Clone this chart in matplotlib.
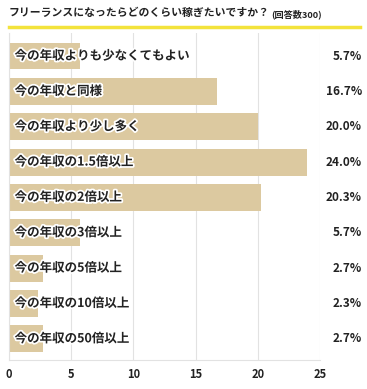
import matplotlib
matplotlib.use("Agg")
import matplotlib.pyplot as plt
import matplotlib.patheffects as pe
import matplotlib.transforms as mtransforms

plt.rcParams['font.family'] = ['Noto Sans CJK JP', 'DejaVu Sans']

# data
labels = ["今の年収よりも少なくてもよい", "今の年収と同様", "今の年収より少し多く",
          "今の年収の1.5倍以上", "今の年収の2倍以上", "今の年収の3倍以上",
          "今の年収の5倍以上", "今の年収の10倍以上", "今の年収の50倍以上"]
values = [5.7, 16.7, 20.0, 24.0, 20.3, 5.7, 2.7, 2.3, 2.7]
xticks = [0, 5, 10, 15, 20, 25]

fig = plt.figure(figsize=(3.67, 3.89), dpi=100)
ax = fig.add_axes([0.0245, 0.0745, 0.847, 0.8405])

y = list(range(len(values)))
ax.barh(y, values, height=0.76, color="#dcc9a0", zorder=2)

halo = [pe.withStroke(linewidth=2.5, foreground="white")]
pct_tr = mtransforms.blended_transform_factory(fig.transFigure, ax.transData)
for i, (lab, v) in enumerate(zip(labels, values)):
    ax.text(0.45, i, lab, va="center", ha="left", fontsize=9, fontweight="bold",
            color="#222222", path_effects=halo, zorder=3)
    ax.text(362 / 367, i, "%.1f%%" % v, transform=pct_tr,
            va="center", ha="right", fontsize=8.5, fontweight="bold", color="#222222")

ax.set_xlim(0, 25)
ax.set_ylim(8.6, -0.65)
ax.set_xticks(xticks)
ax.set_xticklabels([str(t) for t in xticks], fontsize=8, fontweight="bold", color="#222222")
ax.set_yticks([])
ax.tick_params(axis="x", length=0, pad=6)
ax.grid(axis="x", color="#e2e2e2", linewidth=0.8, zorder=0)
for s in ["top", "right"]:
    ax.spines[s].set_visible(False)
for s in ["left", "bottom"]:
    ax.spines[s].set_color("#e2e2e2")
    ax.spines[s].set_linewidth(0.8)

# title and yellow rule
fig.text(9 / 367, 1 - 13 / 389, "フリーランスになったらどのくらい稼ぎたいですか？",
         fontsize=7.8, fontweight="bold", color="#222222", va="center", ha="left")
fig.text(271 / 367, 1 - 14 / 389, "(回答数300)", fontsize=6.6, fontweight="bold",
         color="#222222", va="center", ha="left")
fig.add_artist(plt.Line2D([9 / 367, 360 / 367], [1 - 27 / 389, 1 - 27 / 389],
                          color="#f3e33c", linewidth=2.5, transform=fig.transFigure))

fig.savefig("out.png", dpi=100, facecolor="white")
